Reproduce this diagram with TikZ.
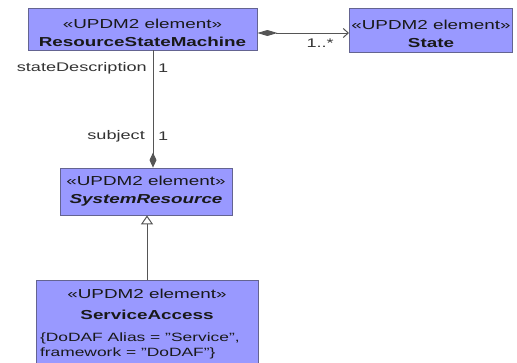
\documentclass[tikz,border=0pt]{standalone}
\usepackage{fontspec}
\setmainfont[FakeStretch=1.45]{Liberation Sans}
\usetikzlibrary{positioning,arrows.meta}

\definecolor{elemfill}{RGB}{153,153,255}
\definecolor{elemdraw}{RGB}{100,100,145}
\definecolor{linkgray}{RGB}{85,85,85}
\newcommand{\tagfont}{\fontsize{12}{15}\selectfont}
\newcommand{\topstrut}{\rule{0pt}{17pt}}

\tikzset{
  elem/.style={draw=elemdraw, fill=elemfill, line width=0.8pt, align=center,
    inner sep=2pt, text=black!90, font=\fontsize{13}{18}\selectfont},
  lbl/.style={inner sep=1pt, font=\fontsize{12.5}{14}\selectfont, text=black!80},
  link/.style={draw=linkgray, line width=1pt},
}

\begin{document}
\begin{tikzpicture}[x=1pt,y=-1pt]
  \useasboundingbox (0,0) rectangle (517,362);
  % elements
  \node[elem, minimum width=229pt, minimum height=42pt] (rsm) at (142.5,29)
    {\topstrut«UPDM2 element»\\\textbf{ResourceStateMachine}};
  \node[elem, minimum width=162pt, minimum height=44pt] (state) at (431,30)
    {\topstrut«UPDM2 element»\\\textbf{State}};
  \node[elem, minimum width=172pt, minimum height=47pt] (sysres) at (146,191.5)
    {«UPDM2 element»\\\textbf{\itshape SystemResource}};
  \node[elem, minimum width=222pt, minimum height=88pt] (svc) at (147,324)
    {«UPDM2 element»\\[3pt]\textbf{ServiceAccess}\\[4pt]
     \makebox[214pt][l]{\tagfont \{DoDAF Alias = "Service",}\\[-3pt]
     \makebox[214pt][l]{\tagfont framework = "DoDAF"\}}};
  % composition rsm - state
  \draw[link, {Diamond[length=20pt,width=6pt]}-{Straight Barb[length=5pt,width=9pt]}]
    ([yshift=-4pt]rsm.east) -- ([yshift=-4pt]rsm.east -| state.west);
  \node[lbl, anchor=east] (multstate) at ([xshift=-14pt,yshift=-14pt]rsm.east -| state.west) {1..*};
  % composition rsm - sysres
  \coordinate (desc) at ([xshift=10.5pt]rsm.south);
  \draw[link, -{Diamond[length=15pt,width=7pt]}] (desc) -- (desc |- sysres.north);
  \node[lbl, anchor=east] (desclbl) at ([xshift=-5pt,yshift=-18pt]desc) {stateDescription};
  \node[lbl, anchor=west] (descmult) at ([xshift=4pt,yshift=-18pt]desc) {1};
  \node[lbl, anchor=east] (subjlbl) at ([xshift=-7pt,yshift=31pt]desc |- sysres.north) {subject};
  \node[lbl, anchor=west] (subjmult) at ([xshift=4pt,yshift=31pt]desc |- sysres.north) {1};
  % generalization
  \draw[link, -{Triangle[open,length=9pt,width=12pt]}] (svc.north) -- (svc.north |- sysres.south);
\end{tikzpicture}
\end{document}
